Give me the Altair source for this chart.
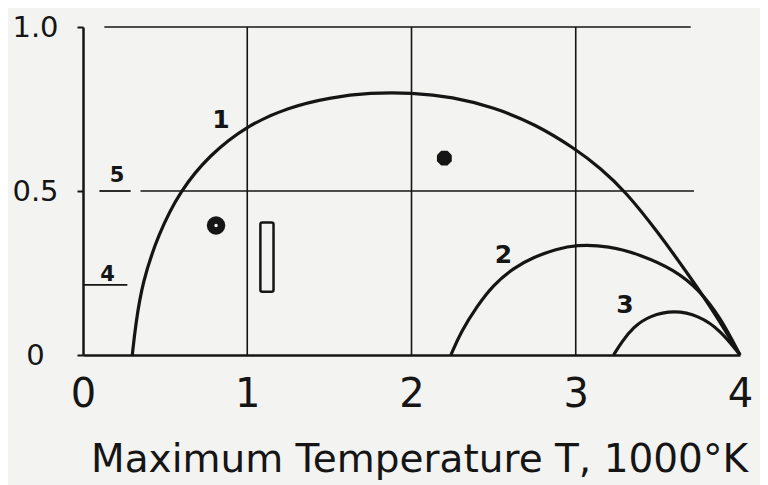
import altair as alt
import pandas as pd

# ---- data ----
c1_x = [0.30, 0.32, 0.36, 0.46, 0.59, 0.77, 1.0, 1.25, 1.5, 1.75, 2.0, 2.25, 2.5, 2.75, 3.0, 3.15, 3.3, 3.5, 3.7, 3.85, 4.0]
c1_y = [0.0, 0.09, 0.22, 0.37, 0.50, 0.61, 0.70, 0.755, 0.785, 0.80, 0.80, 0.787, 0.755, 0.705, 0.628, 0.57, 0.50, 0.375, 0.235, 0.125, 0.0]
c2_x = [2.24, 2.30, 2.40, 2.50, 2.62, 2.75, 2.88, 3.0, 3.2, 3.4, 3.6, 3.75, 3.88, 4.0]
c2_y = [0.0, 0.07, 0.15, 0.215, 0.265, 0.30, 0.322, 0.336, 0.333, 0.305, 0.26, 0.20, 0.115, 0.0]
c3_x = [3.23, 3.28, 3.35, 3.45, 3.6, 3.75, 3.88, 4.0]
c3_y = [0.0, 0.04, 0.085, 0.12, 0.137, 0.12, 0.076, 0.0]

curve_labels = ["1", "2", "3"]
curve_label_x = [0.84, 2.56, 3.30]
curve_label_y = [0.716, 0.306, 0.153]

vgrid_x = [1, 2, 3]
hgrid_y = [1.0, 0.5]
hgrid_x1 = [0.13, 0.35]
hgrid_x2 = [3.7, 3.72]

mark_labels = ["5", "4"]
mark_y = [0.5, 0.214]
mark_x1 = [0.10, 0.0]
mark_x2 = [0.29, 0.27]
mark_label_x = [0.207, 0.15]
mark_label_y = [0.545, 0.245]

circle_pt = (0.81, 0.395)
rect_x = (1.08, 1.16)
rect_y = (0.193, 0.404)
star_pt = (2.2, 0.60)

x_ticks = [0, 1, 2, 3, 4]
y_ticks = [0, 0.5, 1.0]
x_title = "Maximum Temperature T, 1000°K"

INK = "#151515"
BG = "#f3f3f1"
FONT = "DejaVu Sans"

# ---- tables ----
curves = pd.concat([
    pd.DataFrame({"x": c1_x, "y": c1_y, "c": "1"}),
    pd.DataFrame({"x": c2_x, "y": c2_y, "c": "2"}),
    pd.DataFrame({"x": c3_x, "y": c3_y, "c": "3"}),
])
labels_df = pd.DataFrame({"t": curve_labels, "x": curve_label_x, "y": curve_label_y})
vgrid = pd.DataFrame({"x": vgrid_x, "y1": 0.0, "y2": 1.0})
hgrid = pd.DataFrame({"y": hgrid_y, "x1": hgrid_x1, "x2": hgrid_x2})
marks_df = pd.DataFrame({"t": mark_labels, "y": mark_y, "x1": mark_x1, "x2": mark_x2,
                         "lx": mark_label_x, "ly": mark_label_y})

xs = alt.Scale(domain=[0, 4], nice=False)
ys = alt.Scale(domain=[0, 1], nice=False)

base_x = alt.X("x:Q", scale=xs, axis=alt.Axis(
    values=x_ticks, format="d", title=x_title, grid=False, ticks=False, domain=True,
    domainColor=INK, domainWidth=2.5, labelFontSize=40, labelFont=FONT, labelColor=INK,
    labelPadding=19, labelFlush=False, titleFontSize=39, titleFont=FONT, titleFontWeight="normal",
    titleColor=INK, titlePadding=26, titleX=336, titleAnchor="middle"))
base_y = alt.Y("y:Q", scale=ys, axis=alt.Axis(
    values=y_ticks, title=None, grid=False, ticks=True, tickSize=6, tickColor=INK, tickWidth=2,
    domain=True, domainColor=INK, domainWidth=2.5, labelFontSize=29, labelFont=FONT,
    labelColor=INK, labelAlign="center", labelPadding=42, labelFlush=False,
    labelExpr="datum.value == 0 ? '0' : format(datum.value, '.1f')"))

curve_layer = alt.Chart(curves).mark_line(
    color=INK, strokeWidth=3.2, interpolate="basis").encode(
    x=base_x, y=base_y, detail="c:N")

vg = alt.Chart(vgrid).mark_rule(color=INK, strokeWidth=1.6).encode(
    x=alt.X("x:Q", scale=xs), y=alt.Y("y1:Q", scale=ys), y2="y2:Q")
hg = alt.Chart(hgrid).mark_rule(color=INK, strokeWidth=1.6).encode(
    y=alt.Y("y:Q", scale=ys), x=alt.X("x1:Q", scale=xs), x2="x2:Q")
mk = alt.Chart(marks_df).mark_rule(color=INK, strokeWidth=1.8).encode(
    y=alt.Y("y:Q", scale=ys), x=alt.X("x1:Q", scale=xs), x2="x2:Q")
mk_t = alt.Chart(marks_df).mark_text(color=INK, fontSize=21, font=FONT, fontWeight="bold").encode(
    x=alt.X("lx:Q", scale=xs), y=alt.Y("ly:Q", scale=ys), text="t:N")
lab = alt.Chart(labels_df).mark_text(color=INK, fontSize=25, font=FONT, fontWeight="bold").encode(
    x=alt.X("x:Q", scale=xs), y=alt.Y("y:Q", scale=ys), text="t:N")

circ_df = pd.DataFrame({"x": [circle_pt[0]], "y": [circle_pt[1]]})
circ = alt.Chart(circ_df).mark_point(shape="circle", filled=True, color=INK, size=340, opacity=1).encode(
    x=alt.X("x:Q", scale=xs), y=alt.Y("y:Q", scale=ys))
circ_dot = alt.Chart(circ_df).mark_point(shape="circle", filled=True, color=BG, size=12, opacity=1).encode(
    x=alt.X("x:Q", scale=xs), y=alt.Y("y:Q", scale=ys))

rect_df = pd.DataFrame({"x1": [rect_x[0]], "x2": [rect_x[1]], "y1": [rect_y[0]], "y2": [rect_y[1]]})
rect = alt.Chart(rect_df).mark_rect(fill=BG, stroke=INK, strokeWidth=2.5, cornerRadius=2).encode(
    x=alt.X("x1:Q", scale=xs), x2="x2:Q", y=alt.Y("y1:Q", scale=ys), y2="y2:Q")

star_df = pd.DataFrame({"x": [star_pt[0]], "y": [star_pt[1]]})
star = alt.Chart(star_df).mark_point(shape="cross", filled=True, color=INK, size=220, opacity=1).encode(
    x=alt.X("x:Q", scale=xs), y=alt.Y("y:Q", scale=ys))
star2 = alt.Chart(star_df).mark_point(shape="cross", filled=True, color=INK, size=220, opacity=1,
                                      angle=45).encode(
    x=alt.X("x:Q", scale=xs), y=alt.Y("y:Q", scale=ys))

chart = alt.layer(curve_layer, vg, hg, mk, mk_t, lab, rect, circ, circ_dot, star, star2).properties(
    width=657, height=328,
    autosize=alt.AutoSizeParams(type="none"),
    padding={"left": 75, "top": 19, "right": 20, "bottom": 130},
    background=BG,
).configure_view(stroke=None)

chart.save("out.html", embed_options={"renderer": "svg", "actions": False})
